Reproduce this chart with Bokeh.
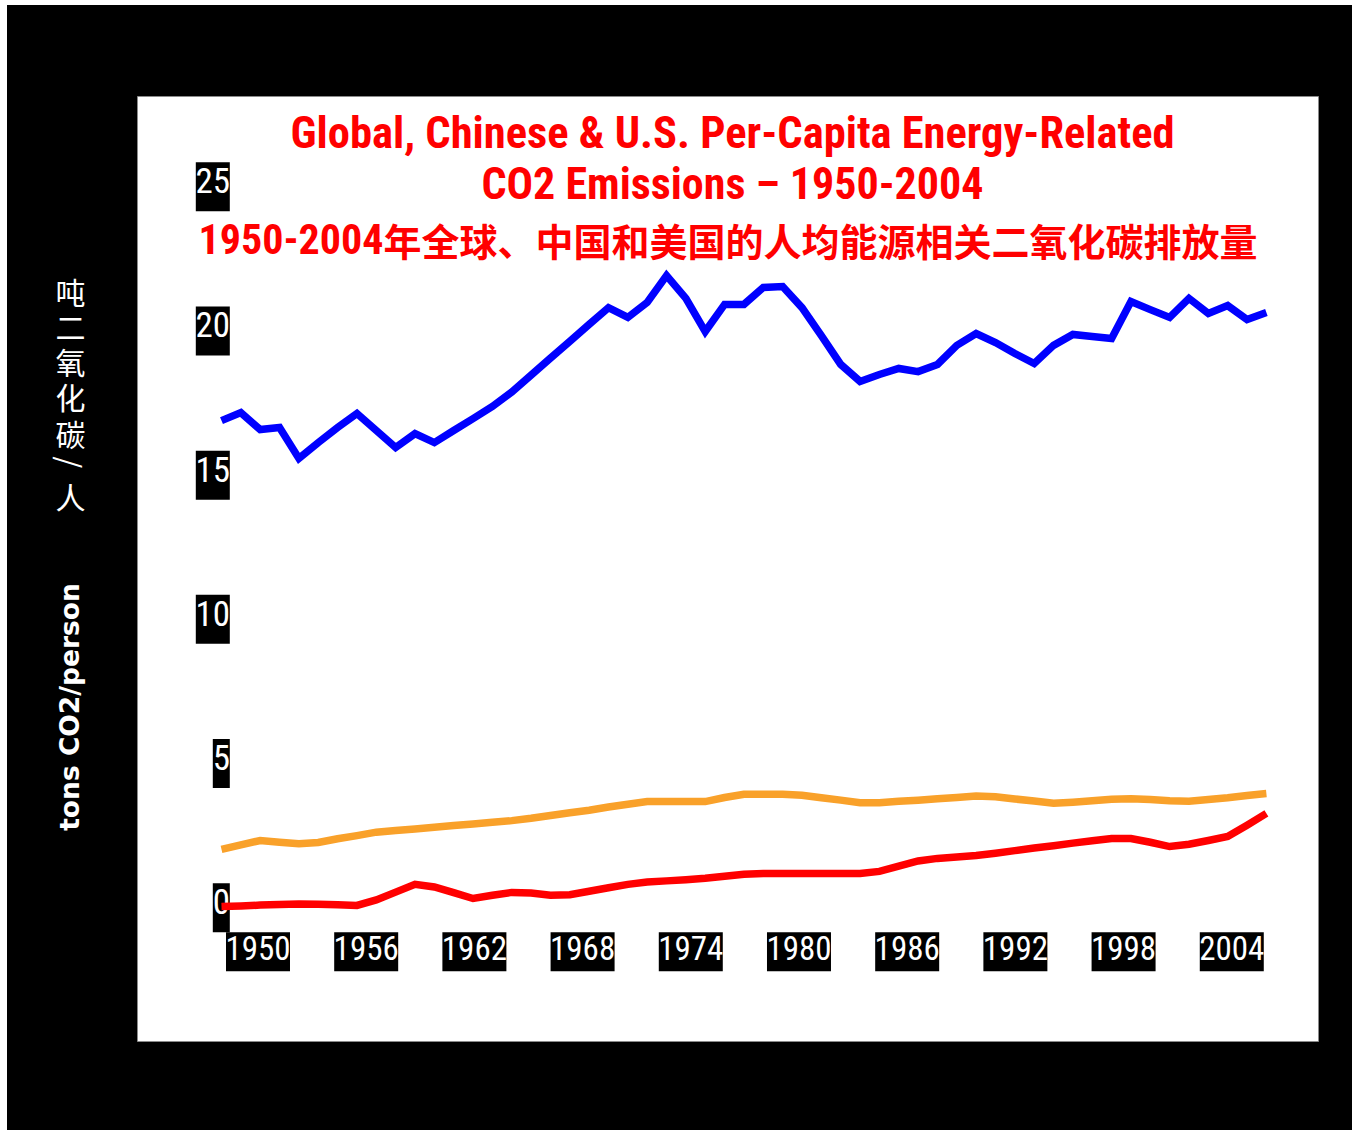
import math
from bokeh.plotting import figure
from bokeh.layouts import row
from bokeh.models import Range1d, Label, ColumnDataSource
from bokeh.core.properties import value
from bokeh.embed import file_html
from bokeh.resources import INLINE

# --- data: per-capita energy-related CO2 emissions, tons CO2 per person ---
years = list(range(1950, 2005))

us = [16.89, 17.17, 16.58, 16.65, 15.58, 16.13, 16.65, 17.14, 16.55, 15.96,
      16.44, 16.13, 16.55, 16.96, 17.38, 17.88, 18.47, 19.06, 19.64, 20.23,
      20.81, 20.47, 20.99, 21.92, 21.13, 19.98, 20.92, 20.92, 21.51, 21.54,
      20.81, 19.84, 18.84, 18.25, 18.49, 18.70, 18.59, 18.84, 19.50, 19.91,
      19.60, 19.22, 18.87, 19.50, 19.88, 19.81, 19.74, 21.02, 20.74, 20.47,
      21.13, 20.61, 20.88, 20.40, 20.64]

world = [2.02, 2.18, 2.33, 2.27, 2.22, 2.26, 2.39, 2.50, 2.62, 2.68,
         2.73, 2.79, 2.85, 2.90, 2.96, 3.02, 3.10, 3.20, 3.29, 3.38,
         3.49, 3.59, 3.68, 3.68, 3.68, 3.68, 3.82, 3.93, 3.93, 3.93,
         3.90, 3.81, 3.73, 3.64, 3.64, 3.69, 3.73, 3.78, 3.82, 3.87,
         3.85, 3.77, 3.70, 3.62, 3.66, 3.71, 3.76, 3.78, 3.75, 3.71,
         3.69, 3.75, 3.81, 3.89, 3.96]

china = [0.04, 0.06, 0.09, 0.11, 0.13, 0.12, 0.10, 0.08, 0.27, 0.54,
         0.81, 0.72, 0.52, 0.32, 0.43, 0.53, 0.51, 0.43, 0.45, 0.57,
         0.69, 0.81, 0.89, 0.93, 0.97, 1.02, 1.09, 1.16, 1.19, 1.19,
         1.19, 1.19, 1.19, 1.19, 1.26, 1.44, 1.62, 1.71, 1.76, 1.81,
         1.89, 1.98, 2.07, 2.15, 2.24, 2.32, 2.40, 2.40, 2.27, 2.12,
         2.20, 2.33, 2.47, 2.86, 3.27]

y_ticks = [0, 5, 10, 15, 20, 25]
x_ticks = [1950, 1956, 1962, 1968, 1974, 1980, 1986, 1992, 1998, 2004]

title_en_1 = "Global, Chinese & U.S. Per-Capita Energy-Related"
title_en_2 = "CO2 Emissions \u2013 1950-2004"
title_zh_years = "1950-2004"
title_zh_rest = "年全球、中国和美国的人均能源相关二氧化碳排放量"
ylabel_en = "tons CO2/person"
ylabel_zh = ["吨", "二", "氧", "化", "碳", "/", "人"]

SANS = "Roboto Condensed, Liberation Sans, Arial, sans-serif"
CJK = "Noto Sans CJK SC, sans-serif"

BORDER_TOP, BORDER_BOTTOM = 91, 89

# --- main panel geometry ---
X0, X1 = 1945.659, 2006.693
Y0, Y1 = -4.640, 28.131
FRAME_W, FRAME_H = 1181, 945
px_x = FRAME_W / (X1 - X0)      # pixels per year
px_y = FRAME_H / (Y1 - Y0)      # pixels per ton

p = figure(
    width=1215, height=1125,
    x_range=Range1d(X0, X1), y_range=Range1d(Y0, Y1),
    title=None, output_backend="svg", toolbar_location=None,
    min_border_left=0, min_border_right=34,
    min_border_top=BORDER_TOP, min_border_bottom=BORDER_BOTTOM,
    background_fill_color="white", border_fill_color="black",
    outline_line_color="#8a8a8a", outline_line_width=1,
)
p.xaxis.visible = False
p.yaxis.visible = False
p.xgrid.visible = False
p.ygrid.visible = False

# secondary scale for the row of year labels
p.extra_x_ranges = {"ticks": Range1d(1943.318, 2008.809)}

# value labels: white digits on black boxes, right edge just past the first year
ybox_w = [17 * len(str(v)) for v in y_ticks]
ybox_x = [years[0] + (8.3 - w / 2) / px_x for w in ybox_w]
ysrc = ColumnDataSource(dict(x=ybox_x, y=y_ticks, w=ybox_w,
                             text=[str(v) for v in y_ticks]))
p.rect(x="x", y="y", width="w", height=49, source=ysrc,
       width_units="screen", height_units="screen",
       fill_color="black", line_color=None)
p.text(x="x", y="y", text="text", source=ysrc, y_offset=-6,
       text_align="center", text_baseline="middle",
       text_color="white", text_font=value(SANS), text_font_size="35px")

# year labels along the bottom
row_y = -44 / px_y
xsrc = ColumnDataSource(dict(x=x_ticks, y=[row_y] * len(x_ticks),
                             text=[str(v) for v in x_ticks]))
p.rect(x="x", y="y", width=64, height=39, source=xsrc, x_range_name="ticks",
       width_units="screen", height_units="screen",
       fill_color="black", line_color=None)
p.text(x="x", y="y", text="text", source=xsrc, x_range_name="ticks",
       y_offset=-4, text_align="center", text_baseline="middle",
       text_color="white", text_font=value(SANS), text_font_size="33px")

# the three series
line_kw = dict(line_width=7.5, line_join="miter", line_cap="butt")
p.line(years, world, line_color="#F9A12A", **line_kw)
p.line(years, china, line_color="#FF0000", **line_kw)
p.line(years, us, line_color="#0000FF", **line_kw)

# titles inside the plot panel (screen units from the panel's lower-left)
red_kw = dict(x_units="screen", y_units="screen", text_color="#FF0000",
              text_font_style="bold", text_baseline="middle")
p.add_layout(Label(x=595, y=908.5, text=title_en_1, text_align="center",
                   text_font=SANS, text_font_size="44.5px", **red_kw))
p.add_layout(Label(x=595, y=857.5, text=title_en_2, text_align="center",
                   text_font=SANS, text_font_size="44px", **red_kw))
p.add_layout(Label(x=246, y=802.5, text=title_zh_years, text_align="right",
                   text_font=SANS, text_font_size="42px", **red_kw))
p.add_layout(Label(x=246, y=802.5, text=title_zh_rest, text_align="left",
                   text_font=CJK, text_font_size="38px", **red_kw))

# --- left strip carrying the axis titles (coordinates in page pixels) ---
side = figure(
    width=130, height=1125,
    x_range=Range1d(7, 137), y_range=Range1d(1041, 96),
    title=None, output_backend="svg", toolbar_location=None,
    min_border_left=0, min_border_right=0,
    min_border_top=BORDER_TOP, min_border_bottom=BORDER_BOTTOM,
    background_fill_color="black", border_fill_color="black",
    outline_line_color=None,
)
side.xaxis.visible = False
side.yaxis.visible = False
side.xgrid.visible = False
side.ygrid.visible = False

side.text(x=[68.5], y=[706.5], text=[ylabel_en], angle=math.pi / 2,
          text_align="center", text_baseline="middle", text_color="white",
          text_font=value("DejaVu Sans"), text_font_style="bold",
          text_font_size="26.5px")

zh_y = [290, 325, 360, 395, 432, 462, 495]
zh_angle = [(-math.pi / 2 if ch == "/" else 0.0) for ch in ylabel_zh]
side.text(x=[70] * len(ylabel_zh), y=zh_y, text=ylabel_zh, angle=zh_angle,
          text_align="center", text_baseline="middle", text_color="white",
          text_font=value(CJK), text_font_size="30px")

layout = row(side, p, spacing=0)
layout.margin = (5, 0, 0, 7)
layout.styles = {"background-color": "black"}

open("out.html", "w").write(file_html(layout, INLINE))
